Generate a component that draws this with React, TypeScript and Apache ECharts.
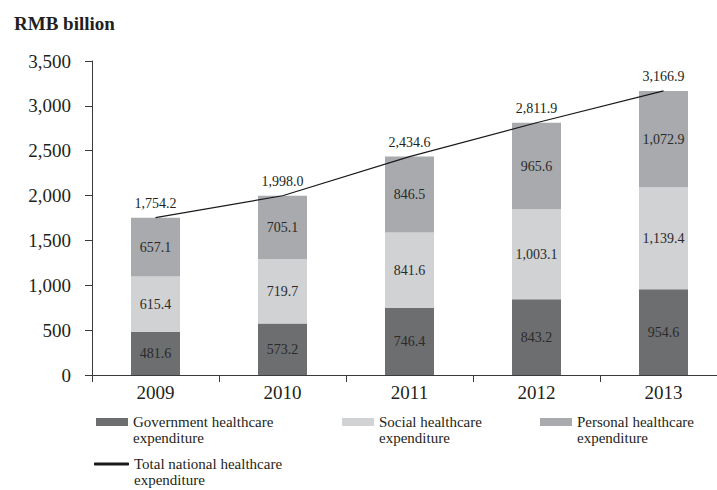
import React, { useEffect, useRef } from "react";
import * as echarts from "echarts";

const years = ["2009", "2010", "2011", "2012", "2013"];
const government = [481.6, 573.2, 746.4, 843.2, 954.6];
const social = [615.4, 719.7, 841.6, 1003.1, 1139.4];
const personal = [657.1, 705.1, 846.5, 965.6, 1072.9];
const total = [1754.2, 1998.0, 2434.6, 2811.9, 3166.9];

const seriesNames = [
  "Government healthcare expenditure",
  "Social healthcare expenditure",
  "Personal healthcare expenditure",
  "Total national healthcare expenditure",
];

const FONT = "'Liberation Serif', 'Times New Roman', serif";
const TEXT = "#231f20";

const fmt1 = (v: number) =>
  v.toLocaleString("en-US", { minimumFractionDigits: 1, maximumFractionDigits: 1 });
const fmt0 = (v: number) => v.toLocaleString("en-US");

const wrapLegend = (name: string) => {
  const idx = name.lastIndexOf(" ");
  return "\n" + name.slice(0, idx) + "\n" + name.slice(idx + 1);
};

export default function App() {
  const ref = useRef<HTMLDivElement>(null);

  useEffect(() => {
    if (!ref.current) return;
    const chart = echarts.init(ref.current, undefined, { renderer: "svg" });

    const legendText = {
      fontFamily: FONT,
      fontSize: 15,
      lineHeight: 16,
      color: TEXT,
    };

    const barLabel = {
      show: true,
      position: "inside" as const,
      fontFamily: FONT,
      fontSize: 14,
      color: "#2a2a2a",
      formatter: (p: any) => fmt1(p.value),
    };

    const barColors = ["#6d6e70", "#d1d2d4", "#a8aaad"];
    const barData = [government, social, personal];

    const legendBase = {
      padding: 0,
      icon: "rect",
      itemWidth: 32,
      itemHeight: 8,
      formatter: wrapLegend,
      textStyle: legendText,
      selectedMode: false,
    };

    chart.setOption({
      animation: false,
      textStyle: { fontFamily: FONT },
      title: {
        text: "RMB billion",
        left: 9,
        top: 9,
        textStyle: { fontFamily: FONT, fontSize: 19, fontWeight: "bold", color: TEXT },
      },
      grid: { left: 92, top: 61, width: 635, height: 314, containLabel: false, outerBoundsMode: "none" },
      legend: [
        { ...legendBase, left: 96, top: 398, data: [seriesNames[0]] },
        { ...legendBase, left: 342, top: 398, data: [seriesNames[1]] },
        { ...legendBase, left: 540, top: 398, data: [seriesNames[2]] },
        { ...legendBase, left: 94, top: 440, itemWidth: 35, itemHeight: 3, data: [{ name: seriesNames[3], icon: "roundRect" }] },
      ],
      xAxis: {
        type: "category",
        data: years,
        axisLine: { show: true, lineStyle: { color: "#3a3a3a", width: 1 } },
        axisTick: { show: true, length: 7, alignWithLabel: false, lineStyle: { color: "#3a3a3a" } },
        axisLabel: { fontFamily: FONT, fontSize: 19, color: TEXT, margin: 8 },
        splitLine: { show: false },
      },
      yAxis: {
        type: "value",
        min: 0,
        max: 3500,
        interval: 500,
        axisLine: { show: true, lineStyle: { color: "#3a3a3a", width: 1 } },
        axisTick: { show: true, length: 7, lineStyle: { color: "#3a3a3a" } },
        axisLabel: { fontFamily: FONT, fontSize: 19, color: TEXT, margin: 21, formatter: (v: number) => fmt0(v) },
        splitLine: { show: false },
      },
      series: [
        ...barData.map((d, i) => ({
          name: seriesNames[i],
          type: "bar",
          stack: "total",
          barWidth: 49,
          data: d,
          itemStyle: { color: barColors[i] },
          label: barLabel,
        })),
        {
          name: seriesNames[3],
          type: "line",
          data: total,
          symbol: "circle",
          symbolSize: 0.1,
          showSymbol: true,
          z: 5,
          color: "#1a1a1a",
          lineStyle: { color: "#1a1a1a", width: 1.2 },
          itemStyle: { color: "#1a1a1a" },
          label: {
            show: true,
            position: "top",
            distance: 7,
            fontFamily: FONT,
            fontSize: 14,
            color: TEXT,
            formatter: (p: any) => fmt1(p.value),
          },
        },
      ],
    });

    return () => chart.dispose();
  }, []);

  return (
    <div
      style={{ position: "absolute", left: 0, top: 0, width: 717, height: 490, overflow: "hidden", background: "#fff" }}
    >
      <div ref={ref} style={{ width: 727, height: 490 }} />
    </div>
  );
}
